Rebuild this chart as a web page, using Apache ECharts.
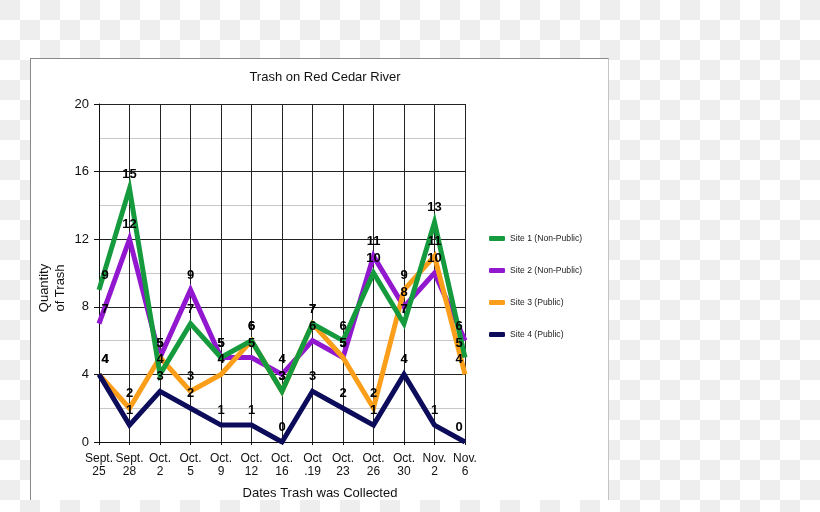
<!DOCTYPE html>
<html><head><meta charset="utf-8">
<script src="https://cdn.jsdelivr.net/npm/echarts@6/dist/echarts.min.js"></script>
<style>
html,body{margin:0;padding:0;width:820px;height:512px;overflow:hidden;
background-color:#fff;
background-image:conic-gradient(#fff 0 25%, #eeeeee 0 50%, #fff 0 75%, #eeeeee 0);
background-size:40px 40px;}
#box{position:absolute;left:30px;top:58px;width:577px;height:441px;background:#fff;
border-top:1px solid #8a8a8a;border-left:1px solid #8a8a8a;border-right:1px solid #c4c4c4;}
#chart{position:absolute;left:0;top:0;width:820px;height:512px;}
</style></head><body>
<div id="box"></div><div id="chart"></div>
<script>
const categories = ['Sept.\n25','Sept.\n28','Oct.\n2','Oct.\n5','Oct.\n9','Oct.\n12','Oct.\n16','Oct\n.19','Oct.\n23','Oct.\n26','Oct.\n30','Nov.\n2','Nov.\n6'];
const site1 = [9,15,4,7,5,6,3,7,6,10,7,13,5];
const site2 = [7,12,5,9,5,5,4,6,5,11,8,10,6];
const site3 = [4,2,5,3,4,6,3,7,5,2,9,11,4];
const site4 = [4,1,3,2,1,1,0,3,2,1,4,1,0];
const seriesNames = ['Site 1 (Non-Public)','Site 2 (Non-Public)','Site 3 (Public)','Site 4 (Public)'];
const colors = ['#159a3e','#9118cf','#fb9f1a','#0c0c5a'];
const FONT = '"Liberation Sans", Arial, Helvetica, sans-serif';

function mkLine(idx, data){
  const color = colors[idx];
  return {
    name: seriesNames[idx], type:'line', data: data,
    symbol:'none', z:2,
    itemStyle:{color:color},
    lineStyle:{width:5,color:color,join:'miter',miterLimit:20,cap:'butt'},
    emphasis:{disabled:true}
  };
}
function mkLabels(idx, data){
  return {
    name: seriesNames[idx]+' labels', type:'line', z:10,
    data: data.map((v,i)=>({value:v, label:{offset:[i===0?6:(i===data.length-1?-6:0),0]}})),
    symbol:'circle', symbolSize:2, showSymbol:true,
    itemStyle:{color:'transparent'},
    lineStyle:{width:0,opacity:0},
    label:{show:true,position:'top',distance:7,color:'#000',fontWeight:'bold',fontSize:13,fontFamily:FONT},
    emphasis:{disabled:true}, tooltip:{show:false}
  };
}

const chart = echarts.init(document.getElementById('chart'), null, {renderer:'canvas'});
chart.setOption({
  animation:false,
  backgroundColor:'transparent',
  title:{text:'Trash on Red Cedar River',left:320,top:66,textAlign:'center',
    textStyle:{fontFamily:FONT,fontSize:13,fontWeight:'normal',color:'#111'}},
  legend:{orient:'vertical',left:489,top:234,padding:0,itemGap:23,icon:'roundRect',itemWidth:16,itemHeight:5,
    data:seriesNames,selectedMode:false,
    textStyle:{fontFamily:FONT,fontSize:8.6,color:'#222'}},
  grid:{left:99,top:104,width:366,height:338,containLabel:false},
  xAxis:{type:'category',data:categories,boundaryGap:false,
    axisLine:{show:true,lineStyle:{color:'#111',width:1}},
    axisTick:{show:true,length:3,alignWithLabel:true,lineStyle:{color:'#111'}},
    axisLabel:{interval:0,margin:10,fontFamily:FONT,fontSize:12,lineHeight:13,color:'#111'},
    splitLine:{show:true,lineStyle:{color:'#222',width:1}}},
  yAxis:{type:'value',min:0,max:20,interval:4,
    axisLine:{show:true,lineStyle:{color:'#111',width:1}},
    axisTick:{show:true,length:5,lineStyle:{color:'#111'}},
    axisLabel:{margin:10,fontFamily:FONT,fontSize:13,color:'#111'},
    splitLine:{show:true,lineStyle:{color:'#222',width:1}},
    minorTick:{show:false,splitNumber:2},
    minorSplitLine:{show:true,lineStyle:{color:'#c8c8c8',width:1}}},
  graphic:[
    {type:'text',x:320,y:493,style:{text:'Dates Trash was Collected',fontFamily:FONT,fontSize:13,fill:'#111',align:'center',verticalAlign:'middle'}},
    {type:'text',x:52,y:288,rotation:Math.PI/2,style:{text:'Quantity\nof Trash',fontFamily:FONT,fontSize:13,lineHeight:16,fill:'#111',align:'center',verticalAlign:'middle'}}
  ],
  series:[mkLine(1,site2),mkLine(2,site3),mkLine(3,site4),mkLine(0,site1),
          mkLabels(1,site2),mkLabels(2,site3),mkLabels(3,site4),mkLabels(0,site1)]
});
</script>
</body></html>
